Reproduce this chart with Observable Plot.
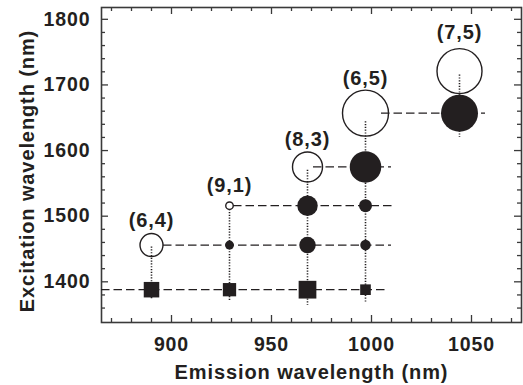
<!DOCTYPE html>
<html><head><meta charset="utf-8">
<script src="https://cdn.jsdelivr.net/npm/d3@7"></script>
<script src="https://cdn.jsdelivr.net/npm/@observablehq/plot@0.6"></script>
<style>body{margin:0;background:#fff} #chart svg text{-webkit-text-stroke:0.4px #231f20;}</style>
</head><body><div id="chart"></div>
<script>
// axis ticks
const xTicks = [900, 950, 1000, 1050];
const yTicks = [1400, 1500, 1600, 1700, 1800];
const xMinor = d3.range(870, 1071, 10);
const yMinor = d3.range(1360, 1801, 20);

// chirality labels and E11 (open circle) resonances
const tubes = ["(6,4)", "(9,1)", "(8,3)", "(6,5)", "(7,5)"];
const emission = [890, 929, 968, 997, 1044];
const openExc = [1456, 1516, 1575, 1657, 1721];
const openInt = [0.46, 0.15, 0.6, 0.92, 0.9];
const labelExc = [1494, 1547, 1617, 1710, 1780];

// filled circles (energy-transfer features)
const filledEm = [929, 968, 968, 997, 997, 997, 1044];
const filledExc = [1456, 1516, 1456, 1575, 1516, 1456, 1657];
const filledInt = [0.18, 0.41, 0.33, 0.63, 0.26, 0.21, 0.74];

// squares (phonon sideband row)
const squareEm = [890, 929, 968, 997];
const squareExc = [1388, 1388, 1388, 1388];
const squareInt = [0.35, 0.30, 0.40, 0.24];

// dashed horizontal guides
const hExc = [1388, 1456, 1516, 1575, 1657];
const hStart = [865, 896, 931, 971, 1005];
const hEnd = [1008, 1010, 1012, 1010, 1057];

// dotted vertical guides
const vEm = [890, 929, 968, 997, 1044];
const vTop = [1453, 1510, 1570, 1644, 1715];
const vBottom = [1373, 1370, 1364, 1368, 1620];

const W = 523, H = 385, mL = 101, mR = 2, mT = 7, mB = 63;
const pw = W - mL - mR, ph = H - mT - mB;
const ink = "#231f20", frameInk = "#3a3a3a";
const font = "Liberation Sans, Arial, Helvetica, sans-serif";

const openData = tubes.map((t, i) => ({t, x: emission[i], y: openExc[i], r: openInt[i], ly: labelExc[i]}));
const filledData = filledEm.map((x, i) => ({x, y: filledExc[i], r: filledInt[i]}));
const squareData = squareEm.map((x, i) => ({x, y: squareExc[i], r: squareInt[i]}));
const hData = hExc.map((y, i) => ({y, x1: hStart[i], x2: hEnd[i]}));
const vData = vEm.map((x, i) => ({x, y1: vTop[i], y2: vBottom[i]}));
const isMajorX = d => xTicks.includes(d);
const isMajorY = d => yTicks.includes(d);

const chart = Plot.plot({
  width: W, height: H,
  marginLeft: mL, marginRight: mR, marginTop: mT, marginBottom: mB,
  style: {fontFamily: font, fontWeight: "bold", fontSize: "20px", color: ink, background: "#fff", letterSpacing: "0.9px"},
  x: {domain: [865, 1075], axis: null},
  y: {domain: [1338, 1818], axis: null},
  r: {type: "linear", domain: [0, 1], range: [0, 25]},
  marks: [
    Plot.axisX(xTicks, {anchor: "bottom", tickSize: 0, tickPadding: 14.5, tickFormat: "d", fontSize: 19.5, fontWeight: "bold", label: null, fill: ink}),
    Plot.axisY(yTicks, {anchor: "left", tickSize: 0, tickPadding: 11, tickFormat: "d", fontSize: 19.5, fontWeight: "bold", label: null, fill: ink}),
    // inward ticks, all four sides
    Plot.tickX(xMinor.filter(isMajorX), {x: d => d, insetTop: ph - 7, stroke: frameInk, strokeWidth: 1.3}),
    Plot.tickX(xMinor.filter(d => !isMajorX(d)), {x: d => d, insetTop: ph - 4, stroke: frameInk, strokeWidth: 1.3}),
    Plot.tickX(xMinor.filter(isMajorX), {x: d => d, insetBottom: ph - 7, stroke: frameInk, strokeWidth: 1.3}),
    Plot.tickX(xMinor.filter(d => !isMajorX(d)), {x: d => d, insetBottom: ph - 4, stroke: frameInk, strokeWidth: 1.3}),
    Plot.tickY(yMinor.filter(isMajorY), {y: d => d, insetRight: pw - 7, stroke: frameInk, strokeWidth: 1.3}),
    Plot.tickY(yMinor.filter(d => !isMajorY(d)), {y: d => d, insetRight: pw - 4, stroke: frameInk, strokeWidth: 1.3}),
    Plot.tickY(yMinor.filter(isMajorY), {y: d => d, insetLeft: pw - 7, stroke: frameInk, strokeWidth: 1.3}),
    Plot.tickY(yMinor.filter(d => !isMajorY(d)), {y: d => d, insetLeft: pw - 4, stroke: frameInk, strokeWidth: 1.3}),
    Plot.frame({stroke: frameInk, strokeWidth: 1.6}),
    // guides
    Plot.ruleY(hData, {y: "y", x1: "x1", x2: "x2", stroke: ink, strokeWidth: 1.2, strokeDasharray: "8.5,4"}),
    Plot.ruleX(vData, {x: "x", y1: "y1", y2: "y2", stroke: ink, strokeWidth: 1.6, strokeDasharray: "1.2,1.6"}),
    // markers
    Plot.dot(squareData, {x: "x", y: "y", r: "r", symbol: "square", fill: ink, stroke: "none"}),
    Plot.dot(filledData, {x: "x", y: "y", r: "r", fill: ink, stroke: "none"}),
    Plot.dot(openData, {x: "x", y: "y", r: "r", fill: "none", stroke: ink, strokeWidth: 1.4}),
    // labels
    Plot.text(openData, {x: "x", y: "ly", text: "t", fontSize: 20, fontWeight: "bold", fill: ink, lineAnchor: "middle"}),
    Plot.text(["Emission wavelength (nm)"], {frameAnchor: "bottom", dy: 50, fontSize: 20, fontWeight: "bold", fill: ink, textAnchor: "middle", lineAnchor: "middle"}),
    Plot.text(["Excitation wavelength (nm)"], {frameAnchor: "left", dx: -74, dy: 6, rotate: -90, fontSize: 20, fontWeight: "bold", fill: ink, textAnchor: "middle", lineAnchor: "middle"})
  ]
});
document.getElementById("chart").appendChild(chart);
</script>
</body></html>
